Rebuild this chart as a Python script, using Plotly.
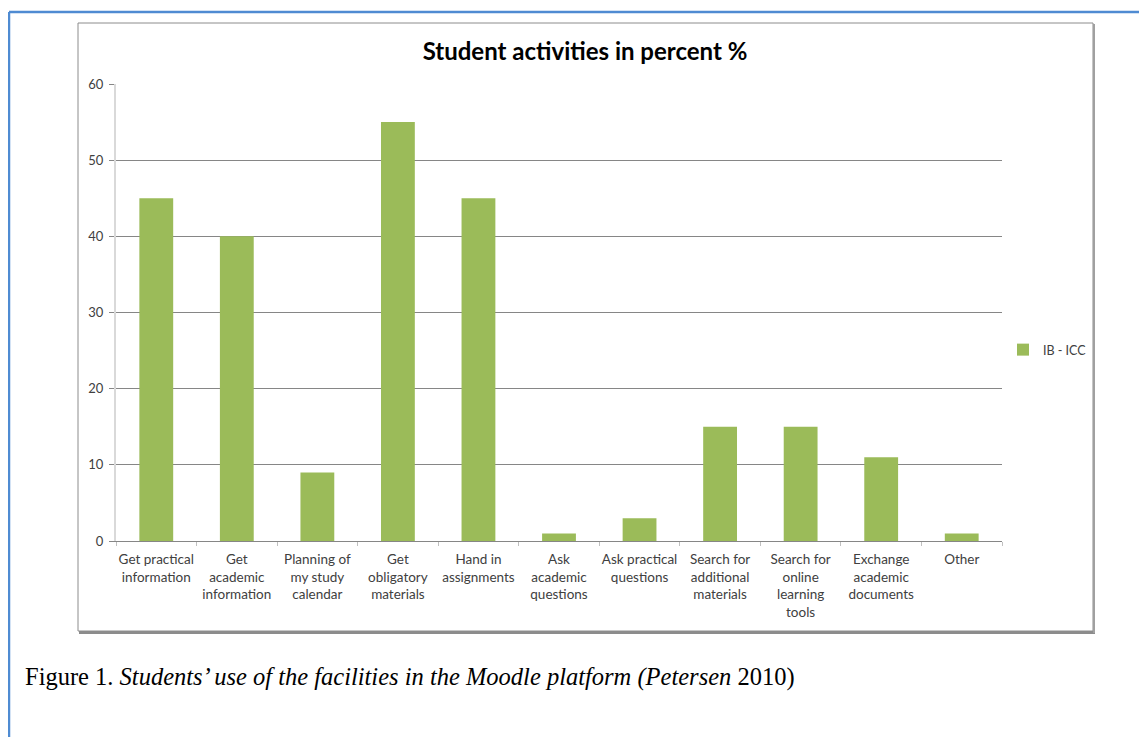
import plotly.graph_objects as go

categories = [
    "Get practical<br>information",
    "Get<br>academic<br>information",
    "Planning of<br>my study<br>calendar",
    "Get<br>obligatory<br>materials",
    "Hand in<br>assignments",
    "Ask<br>academic<br>questions",
    "Ask practical<br>questions",
    "Search for<br>additional<br>materials",
    "Search for<br>online<br>learning<br>tools",
    "Exchange<br>academic<br>documents",
    "Other",
]
values = [45, 40, 9, 55, 45, 1, 3, 15, 15, 11, 1]
series_name = "IB - ICC"
y_ticks = [0, 10, 20, 30, 40, 50, 60]

W, H = 1147, 737
OFF = 8  # page body margin offset
def px(x): return (x - OFF) / W
def py(y): return 1 - (y - OFF) / H

fig = go.Figure()
fig.add_trace(go.Bar(
    x=categories, y=values, name=series_name,
    marker=dict(color="#9BBB59", line=dict(width=0)),
    showlegend=True,
))

fig.update_layout(
    width=W, height=H,
    margin=dict(l=0, r=0, t=0, b=0, autoexpand=False),
    paper_bgcolor="white", plot_bgcolor="white",
    bargap=0.58,
    font=dict(family="Lato, Open Sans, sans-serif", color="#404040", size=13),
    title=dict(text="<b>Student activities in percent %</b>", x=px(585), xanchor="center",
               y=py(52), yanchor="middle",
               font=dict(family="Lato, Open Sans, sans-serif", size=24, color="#000000")),
    xaxis=dict(domain=[px(116), px(1002)], showgrid=False, showline=True, linecolor="#868686",
               linewidth=1, ticks="outside", tickson="boundaries", ticklen=4, tickcolor="#C0C0C0",
               tickfont=dict(size=13.5, color="#404040"), tickangle=0, ticklabelstandoff=6,
               automargin=False),
    yaxis=dict(domain=[py(541), py(84)], range=[0, 60], tickvals=y_ticks, showgrid=True,
               gridcolor="#868686", gridwidth=1, showline=True, linecolor="#D9D9D9", linewidth=2,
               ticks="outside", ticklen=5, tickcolor="#868686", zeroline=False,
               tickfont=dict(size=13, color="#404040"), ticklabelstandoff=3, automargin=False),
    legend=dict(x=px(1003), y=py(350), xanchor="left", yanchor="middle",
                font=dict(size=12.5, color="#404040"), bgcolor="rgba(0,0,0,0)",
                itemwidth=30),
    shapes=[
        # outer blue frame
        dict(type="line", xref="paper", yref="paper", x0=px(9), x1=1.02, y0=py(12), y1=py(12),
             line=dict(color="#4F8BD2", width=2.5)),
        dict(type="line", xref="paper", yref="paper", x0=px(9), x1=px(9), y0=py(12), y1=-0.02,
             line=dict(color="#4F8BD2", width=2.5)),
        # chart frame
        dict(type="rect", xref="paper", yref="paper", x0=px(78), x1=px(1093), y0=py(631), y1=py(23),
             line=dict(color="#8C8C8C", width=1), layer="below"),
        dict(type="line", xref="paper", yref="paper", x0=px(79), x1=px(1095), y0=py(632.5), y1=py(632.5),
             line=dict(color="#8C8C8C", width=3)),
        dict(type="line", xref="paper", yref="paper", x0=px(1094), x1=px(1094), y0=py(24), y1=py(633),
             line=dict(color="#A0A0A0", width=2)),
    ],
    annotations=[
        dict(xref="paper", yref="paper", x=px(23), y=py(677), xanchor="left", yanchor="middle",
             showarrow=False,
             text="Figure 1. <i>Students\u2019 use of the facilities in the Moodle platform (Petersen</i> 2010)",
             font=dict(family="Liberation Serif, DejaVu Serif, serif", size=24.5, color="#000000")),
    ],
)

fig.write_html("out.html")
